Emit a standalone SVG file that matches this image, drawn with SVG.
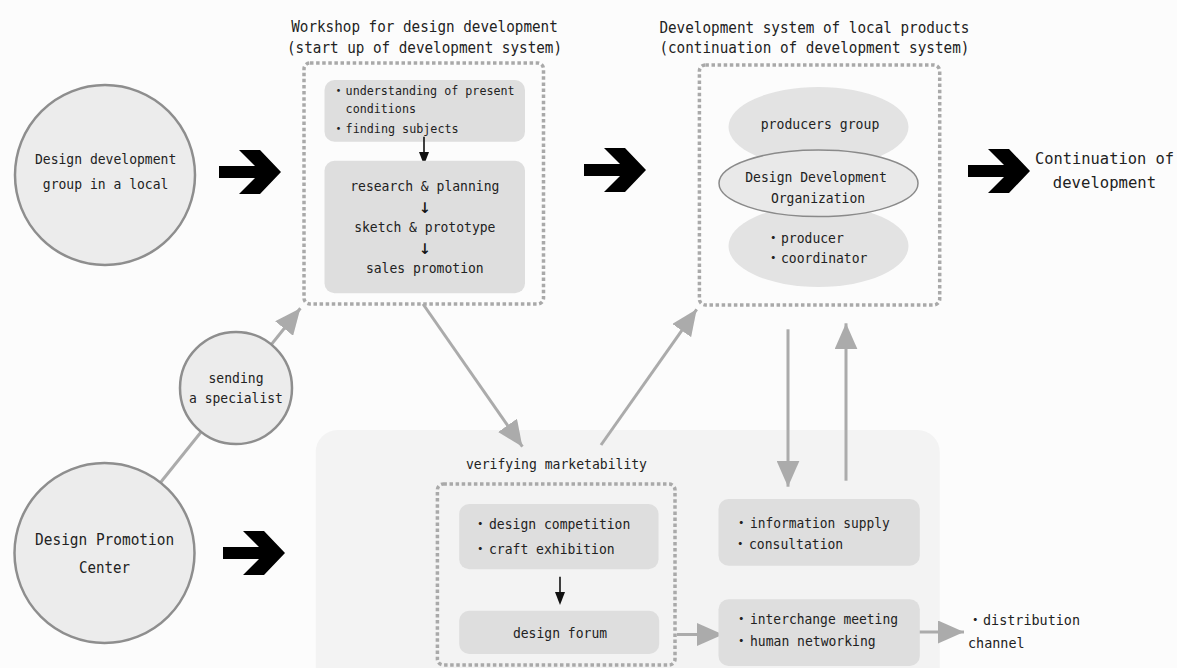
<svg xmlns="http://www.w3.org/2000/svg" width="1177" height="668" viewBox="0 0 1177 668">
<style>
text{font-family:"DejaVu Sans Mono","Liberation Mono","Noto Sans CJK JP",monospace;font-size:14.5px;fill:#222}
.t14{font-size:16px}
.t12{font-size:13px}
.big{font-size:15.4px}
.m{text-anchor:middle}
.arr{font-family:"DejaVu Sans Mono","Noto Sans CJK JP",monospace;font-size:20px;fill:#111}
.circle{fill:#ececec;stroke:#8e8e8e;stroke-width:2.5}
.dot{fill:none;stroke:#a9a9a9;stroke-width:3.5;stroke-dasharray:3.5 2.6}
.box{fill:#dedede}
.ell{fill:#e3e3e3}
.garrow{stroke:#ababab;stroke-width:3;fill:none;marker-end:url(#gh)}
.barrow{stroke:#111;stroke-width:1.6;fill:none}
</style>
<defs>
<marker id="gh" markerUnits="userSpaceOnUse" markerWidth="26" markerHeight="23" refX="26" refY="11.5" orient="auto">
<path d="M0,0 L26,11.5 L0,23 Z" fill="#ababab"/>
</marker>
<path id="chev" d="M0,16 L36,16 L20,0 L41,0 L62,22 L41,44 L20,44 L36,28 L0,28 Z" fill="#000"/>
</defs>
<rect width="1177" height="668" fill="#fcfcfc"/>
<g id="panel">
<rect x="315.7" y="430" width="624" height="270" rx="22" fill="#f3f3f3"/>
</g>
<g id="connectors">
<line class="garrow" x1="160.5" y1="482.5" x2="300.4" y2="308.3"/>
<line class="garrow" x1="423" y1="304" x2="522.4" y2="446.7"/>
<line class="garrow" x1="601" y1="445" x2="696.7" y2="309.3"/>
<line class="garrow" x1="788" y1="329.3" x2="788" y2="486.7"/>
<line class="garrow" x1="846" y1="480.7" x2="846" y2="323.3"/>
<line class="garrow" x1="677" y1="634.5" x2="723" y2="634.5"/>
<line class="garrow" x1="919" y1="632" x2="964" y2="632"/>
<use href="#chev" transform="translate(219,150)"/>
<use href="#chev" transform="translate(584,148)"/>
<use href="#chev" transform="translate(968,149)"/>
<use href="#chev" transform="translate(223,531)"/>
</g>
<g id="local-group">
<circle class="circle" cx="105" cy="175" r="90"/>
<text class="m" x="105.6" y="164" textLength="141.3" lengthAdjust="spacingAndGlyphs">Design development</text>
<text class="m" x="105.6" y="189" textLength="125.6" lengthAdjust="spacingAndGlyphs">group in a local</text>
</g>
<g id="workshop">
<text class="t14 m" x="424.5" y="32" textLength="266.6" lengthAdjust="spacingAndGlyphs">Workshop for design development</text>
<text class="t14 m" x="424.5" y="53" textLength="275" lengthAdjust="spacingAndGlyphs">(start up of development system)</text>
<rect class="dot" x="304" y="63" width="239.5" height="241" rx="6"/>
<rect class="box" x="324.5" y="80" width="200.5" height="61.7" rx="10"/>
<text class="t12" x="332" y="95">・</text>
<text class="t12" x="345.6" y="95" textLength="169" lengthAdjust="spacingAndGlyphs">understanding of present</text>
<text class="t12" x="345.6" y="113.3" textLength="70.4" lengthAdjust="spacingAndGlyphs">conditions</text>
<text class="t12" x="332" y="132.7">・</text>
<text class="t12" x="345.6" y="132.7" textLength="113" lengthAdjust="spacingAndGlyphs">finding subjects</text>
<line class="barrow" x1="424" y1="136.7" x2="424" y2="154"/>
<path d="M419,152 L429,152 L424,165 Z" fill="#111"/>
<rect class="box" x="324.5" y="160.7" width="200.5" height="132.6" rx="10"/>
<text class="m" x="424.8" y="191" textLength="149.2" lengthAdjust="spacingAndGlyphs">research &amp; planning</text>
<text class="m arr" x="424.8" y="212.5">↓&#xFE0E;</text>
<text class="m" x="424.8" y="232" textLength="141.3" lengthAdjust="spacingAndGlyphs">sketch &amp; prototype</text>
<text class="m arr" x="424.8" y="253.5">↓&#xFE0E;</text>
<text class="m" x="424.8" y="272.6" textLength="117.8" lengthAdjust="spacingAndGlyphs">sales promotion</text>
</g>
<g id="dev-system">
<text class="t14 m" x="814.4" y="32.7" textLength="310" lengthAdjust="spacingAndGlyphs">Development system of local products</text>
<text class="t14 m" x="814.4" y="53.3" textLength="310" lengthAdjust="spacingAndGlyphs">(continuation of development system)</text>
<rect class="dot" x="699.4" y="65" width="240.3" height="240" rx="6"/>
<ellipse class="ell" cx="818.5" cy="127" rx="90" ry="40"/>
<ellipse class="ell" cx="818.5" cy="246" rx="90" ry="41"/>
<ellipse cx="818.5" cy="183.3" rx="99.5" ry="33.3" fill="#e9e9e9" stroke="#8a8a8a" stroke-width="1.5"/>
<text class="m" x="820" y="128.6" textLength="118.6" lengthAdjust="spacingAndGlyphs">producers group</text>
<text class="m" x="816" y="182" textLength="141.6" lengthAdjust="spacingAndGlyphs">Design Development</text>
<text class="m" x="818" y="202.6" textLength="94.2" lengthAdjust="spacingAndGlyphs">Organization</text>
<text x="766" y="242.6">・</text>
<text x="781" y="242.6" textLength="62.8" lengthAdjust="spacingAndGlyphs">producer</text>
<text x="766" y="262.6">・</text>
<text x="781" y="262.6" textLength="86.4" lengthAdjust="spacingAndGlyphs">coordinator</text>
</g>
<g id="continuation">
<text class="big m" x="1104.5" y="164" textLength="139" lengthAdjust="spacingAndGlyphs">Continuation of</text>
<text class="big m" x="1104.5" y="187.5" textLength="103.3" lengthAdjust="spacingAndGlyphs">development</text>
</g>
<g id="specialist">
<circle class="circle" cx="236" cy="388" r="56"/>
<text class="m" x="236" y="382.6" textLength="55" lengthAdjust="spacingAndGlyphs">sending</text>
<text class="m" x="236" y="402.6" textLength="93.8" lengthAdjust="spacingAndGlyphs">a specialist</text>
</g>
<g id="promotion-center">
<circle class="circle" cx="104.5" cy="553" r="90"/>
<text class="t14 m" x="104.6" y="545" textLength="139" lengthAdjust="spacingAndGlyphs">Design Promotion</text>
<text class="t14 m" x="104.6" y="573" textLength="51" lengthAdjust="spacingAndGlyphs">Center</text>
</g>
<g id="marketability">
<text class="m" x="556.5" y="468.6" textLength="181" lengthAdjust="spacingAndGlyphs">verifying marketability</text>
<rect class="dot" x="437.4" y="484" width="237.6" height="181" rx="6"/>
<rect class="box" x="459.2" y="504" width="199.3" height="65.3" rx="10"/>
<text x="473" y="529.3">・</text>
<text x="489" y="529.3" textLength="141.3" lengthAdjust="spacingAndGlyphs">design competition</text>
<text x="473" y="553.6">・</text>
<text x="489" y="553.6" textLength="125.6" lengthAdjust="spacingAndGlyphs">craft exhibition</text>
<line class="barrow" x1="560" y1="576.7" x2="560" y2="594"/>
<path d="M555,592 L565,592 L560,605 Z" fill="#111"/>
<rect class="box" x="459.2" y="610.7" width="200" height="43.3" rx="10"/>
<text class="m" x="560" y="638" textLength="94.2" lengthAdjust="spacingAndGlyphs">design forum</text>
</g>
<g id="information">
<rect class="box" x="718.5" y="499" width="201.3" height="66.7" rx="10"/>
<text x="734" y="527.6">・</text>
<text x="750" y="527.6" textLength="139.7" lengthAdjust="spacingAndGlyphs">information supply</text>
<text x="733" y="548.6">・</text>
<text x="749" y="548.6" textLength="94.2" lengthAdjust="spacingAndGlyphs">consultation</text>
</g>
<g id="interchange">
<rect class="box" x="718.5" y="599.3" width="201.3" height="66.7" rx="10"/>
<text x="734" y="624.3">・</text>
<text x="750" y="624.3" textLength="148" lengthAdjust="spacingAndGlyphs">interchange meeting</text>
<text x="734" y="646">・</text>
<text x="750" y="646" textLength="125.6" lengthAdjust="spacingAndGlyphs">human networking</text>
</g>
<g id="distribution">
<text x="968" y="624.6">・</text>
<text x="983" y="624.6" textLength="97" lengthAdjust="spacingAndGlyphs">distribution</text>
<text x="968" y="647.8" textLength="56.6" lengthAdjust="spacingAndGlyphs">channel</text>
</g>
</svg>
